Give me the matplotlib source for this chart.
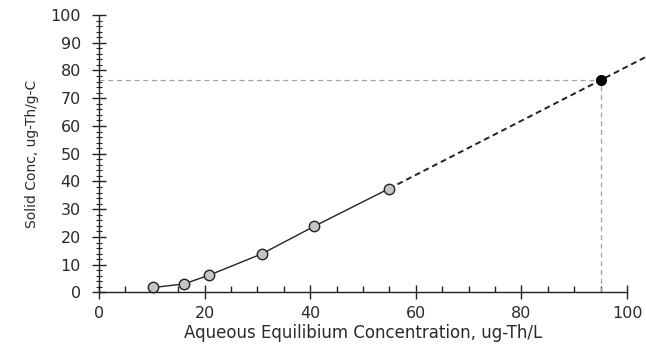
import matplotlib
matplotlib.use("Agg")
import matplotlib.pyplot as plt
from matplotlib.ticker import MultipleLocator

plt.rcParams['font.family'] = ['DejaVu Sans']

x_data = [10.3, 16.1, 20.8, 30.8, 40.7, 54.9]
y_data = [1.8, 3.1, 6.2, 13.9, 23.8, 37.4]
x_extrap = [54.9, 104.0]
y_extrap = [37.4, 85.3]
x_target = 95.0
y_target = 76.5

fig = plt.figure(figsize=(6.46, 3.48), dpi=100)
ax = fig.add_axes([0.1533, 0.1595, 0.8173, 0.7974])

# reference lines
ax.plot([0, x_target], [y_target, y_target], ls=(0, (4, 3)), color='#a0a0a0', lw=0.9)
ax.plot([x_target, x_target], [0, y_target], ls=(0, (4, 3)), color='#a0a0a0', lw=0.9)

ax.plot(x_extrap, y_extrap, ls=(0, (3, 2)), color='#222222', lw=1.4, clip_on=False, zorder=3)
ax.plot(x_data, y_data, '-', color='#222222', lw=1.0, zorder=3)
ax.plot(x_data, y_data, 'o', ms=7.5, mfc='#c4c4c4', mec='#222222', mew=1.0, zorder=4, clip_on=False)
ax.plot([x_target], [y_target], 'o', ms=7, mfc='black', mec='black', zorder=5)

ax.set_xlim(0, 100)
ax.set_ylim(0, 100)
ax.xaxis.set_major_locator(MultipleLocator(20))
ax.xaxis.set_minor_locator(MultipleLocator(5))
ax.yaxis.set_major_locator(MultipleLocator(10))
ax.yaxis.set_minor_locator(MultipleLocator(2))

for s in ['top', 'right']:
    ax.spines[s].set_visible(False)
for s in ['left', 'bottom']:
    ax.spines[s].set_linewidth(1.0)
    ax.spines[s].set_color('#222222')

ax.tick_params(axis='both', which='major', direction='inout', length=10, width=1.0,
               labelsize=11.5, colors='#222222', labelcolor='#2a2a2a')
ax.tick_params(axis='x', which='minor', direction='in', length=4.5, width=1.0, colors='#222222')
ax.tick_params(axis='y', which='minor', direction='inout', length=4, width=0.8, colors='#222222')
ax.tick_params(axis='x', which='major', pad=5)
ax.tick_params(axis='y', which='major', pad=8)

ax.set_xlabel('Aqueous Equilibium Concentration, ug-Th/L', fontsize=12, color='#2a2a2a', labelpad=2)
ax.set_ylabel('Solid Conc, ug-Th/g-C', fontsize=10, color='#2a2a2a', labelpad=8)

fig.savefig('out.png', dpi=100)
